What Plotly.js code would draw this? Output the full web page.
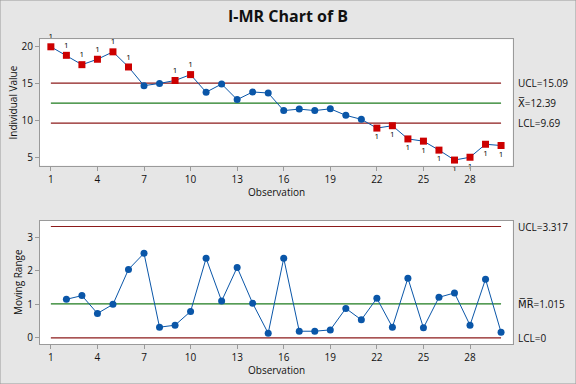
<!DOCTYPE html>
<html><head><meta charset="utf-8">
<script src="https://cdn.plot.ly/plotly-3.0.1.min.js"></script>
<style>html,body{margin:0;padding:0;background:#e6e6e6;}#chart{width:576px;height:384px;}</style>
</head><body><div id="chart"></div>
<script>
// Data
const observations = [1,2,3,4,5,6,7,8,9,10,11,12,13,14,15,16,17,18,19,20,21,22,23,24,25,26,27,28,29,30];
const individualValues = [19.99,18.84,17.58,18.31,19.31,17.27,14.75,15.05,15.45,16.24,13.87,14.97,12.87,13.90,13.76,11.39,11.59,11.39,11.63,10.75,10.21,9.03,9.35,7.57,7.27,6.06,4.72,5.10,6.85,6.68];
const mrObservations = [2,3,4,5,6,7,8,9,10,11,12,13,14,15,16,17,18,19,20,21,22,23,24,25,26,27,28,29,30];
const movingRanges = [1.15,1.26,0.73,1.00,2.04,2.52,0.32,0.38,0.79,2.37,1.10,2.10,1.03,0.14,2.37,0.20,0.20,0.24,0.88,0.54,1.18,0.32,1.78,0.30,1.21,1.34,0.38,1.75,0.17];
const iLimits = {ucl: 15.09, center: 12.39, lcl: 9.69};
const mrLimits = {ucl: 3.317, center: 1.015, lcl: 0};
const xTicks = [1,4,7,10,13,16,19,22,25,28];
const iTicks = [5,10,15,20];
const mrTicks = [0,1,2,3];

const W = 576, H = 384;
const FONT = '"Open Sans", "DejaVu Sans", sans-serif';
const BLUE = '#0a56a8', RED = '#cc0000', DRED = '#8c1b1b', GREEN = '#1e7b1e';

const isOut = individualValues.map(v => v > iLimits.ucl || v < iLimits.lcl);
const iColors = isOut.map(o => o ? RED : BLUE);
const iSymbols = isOut.map(o => o ? 'square' : 'circle');
const iText = isOut.map(o => o ? '1' : '');
const iTextPos = individualValues.map(v => v > iLimits.ucl ? 'top center' : 'bottom center');

const first = observations[0], last = observations[observations.length-1];
function hline(y, color, xa, ya){
  return {x:[first,last], y:[y,y], mode:'lines', line:{color:color, width:1.2}, xaxis:xa, yaxis:ya, hoverinfo:'skip', showlegend:false};
}

const traces = [
  hline(iLimits.ucl, DRED, 'x', 'y'),
  hline(iLimits.center, GREEN, 'x', 'y'),
  hline(iLimits.lcl, DRED, 'x', 'y'),
  hline(mrLimits.ucl, DRED, 'x2', 'y2'),
  hline(mrLimits.center, GREEN, 'x2', 'y2'),
  hline(mrLimits.lcl, DRED, 'x2', 'y2'),
  {x:observations, y:individualValues, mode:'lines+markers+text', xaxis:'x', yaxis:'y',
   line:{color:BLUE, width:1}, marker:{color:iColors, symbol:iSymbols, size:7},
   text:iText, textposition:iTextPos, textfont:{family:FONT, size:8, color:'#000000'}, cliponaxis:false, showlegend:false},
  {x:mrObservations, y:movingRanges, mode:'lines+markers', xaxis:'x2', yaxis:'y2',
   line:{color:BLUE, width:1}, marker:{color:BLUE, size:7}, showlegend:false}
];

const px2fx = p => p / W;
const py2fy = p => 1 - p / H;
const xDom = [px2fx(40), px2fx(512.7)];

const axCommon = {showline:true, mirror:true, linecolor:'#9a9a9a', linewidth:1, showgrid:false, zeroline:false,
  ticks:'outside', ticklen:4, tickcolor:'#9a9a9a', tickfont:{family:FONT, size:10, color:'#111'}, fixedrange:true};

const layout = {
  width:W, height:H, margin:{l:0,r:0,t:0,b:0},
  paper_bgcolor:'#e6e6e6', plot_bgcolor:'#ffffff',
  font:{family:FONT, color:'#111'},
  showlegend:false,
  xaxis:Object.assign({}, axCommon, {domain:xDom, range:[0.3, 30.75], tickvals:xTicks, anchor:'y'}),
  yaxis:Object.assign({}, axCommon, {domain:[py2fy(165.7), py2fy(39.3)], range:[3.96, 21.0], tickvals:iTicks, anchor:'x'}),
  xaxis2:Object.assign({}, axCommon, {domain:xDom, range:[0.3, 30.75], tickvals:xTicks, anchor:'y2'}),
  yaxis2:Object.assign({}, axCommon, {domain:[py2fy(344), py2fy(220.7)], range:[-0.18, 3.49], tickvals:mrTicks, anchor:'x2'}),
  title:{text:'<b>I-MR Chart of B</b>', font:{family:FONT, size:16, color:'#111'}, x:0.5, xanchor:'center', y:py2fy(16), yanchor:'middle'},
  annotations:[
    {text:'Individual Value', xref:'paper', yref:'paper', x:px2fx(13), y:py2fy(102.5), textangle:-90, showarrow:false, font:{family:FONT, size:10}, xanchor:'center', yanchor:'middle'},
    {text:'Moving Range', xref:'paper', yref:'paper', x:px2fx(18), y:py2fy(282), textangle:-90, showarrow:false, font:{family:FONT, size:10}, xanchor:'center', yanchor:'middle'},
    {text:'Observation', xref:'paper', yref:'paper', x:px2fx(276.5), y:py2fy(191.5), showarrow:false, font:{family:FONT, size:10}, xanchor:'center', yanchor:'middle'},
    {text:'Observation', xref:'paper', yref:'paper', x:px2fx(276.5), y:py2fy(370), showarrow:false, font:{family:FONT, size:10}, xanchor:'center', yanchor:'middle'},
    {text:'UCL=' + iLimits.ucl.toFixed(2), xref:'paper', yref:'y', x:px2fx(516), y:iLimits.ucl, showarrow:false, xanchor:'left', font:{family:FONT, size:10}},
    {text:'X\u0305=' + iLimits.center.toFixed(2), xref:'paper', yref:'y', x:px2fx(516), y:iLimits.center, showarrow:false, xanchor:'left', font:{family:FONT, size:10}},
    {text:'LCL=' + iLimits.lcl.toFixed(2), xref:'paper', yref:'y', x:px2fx(516), y:iLimits.lcl, showarrow:false, xanchor:'left', font:{family:FONT, size:10}},
    {text:'UCL=' + mrLimits.ucl.toFixed(3), xref:'paper', yref:'y2', x:px2fx(516), y:mrLimits.ucl, showarrow:false, xanchor:'left', font:{family:FONT, size:10}},
    {text:'M\u0305R\u0305=' + mrLimits.center.toFixed(3), xref:'paper', yref:'y2', x:px2fx(516), y:mrLimits.center, showarrow:false, xanchor:'left', font:{family:FONT, size:10}},
    {text:'LCL=' + mrLimits.lcl, xref:'paper', yref:'y2', x:px2fx(516), y:mrLimits.lcl, showarrow:false, xanchor:'left', font:{family:FONT, size:10}}
  ],
  shapes:[
    {type:'rect', xref:'paper', yref:'paper', x0:0, x1:1, y0:0, y1:1, line:{color:'#9a9a9a', width:1}, fillcolor:'rgba(0,0,0,0)'}
  ]
};

Plotly.newPlot('chart', traces, layout, {displayModeBar:false, staticPlot:true});
</script>
</body></html>
